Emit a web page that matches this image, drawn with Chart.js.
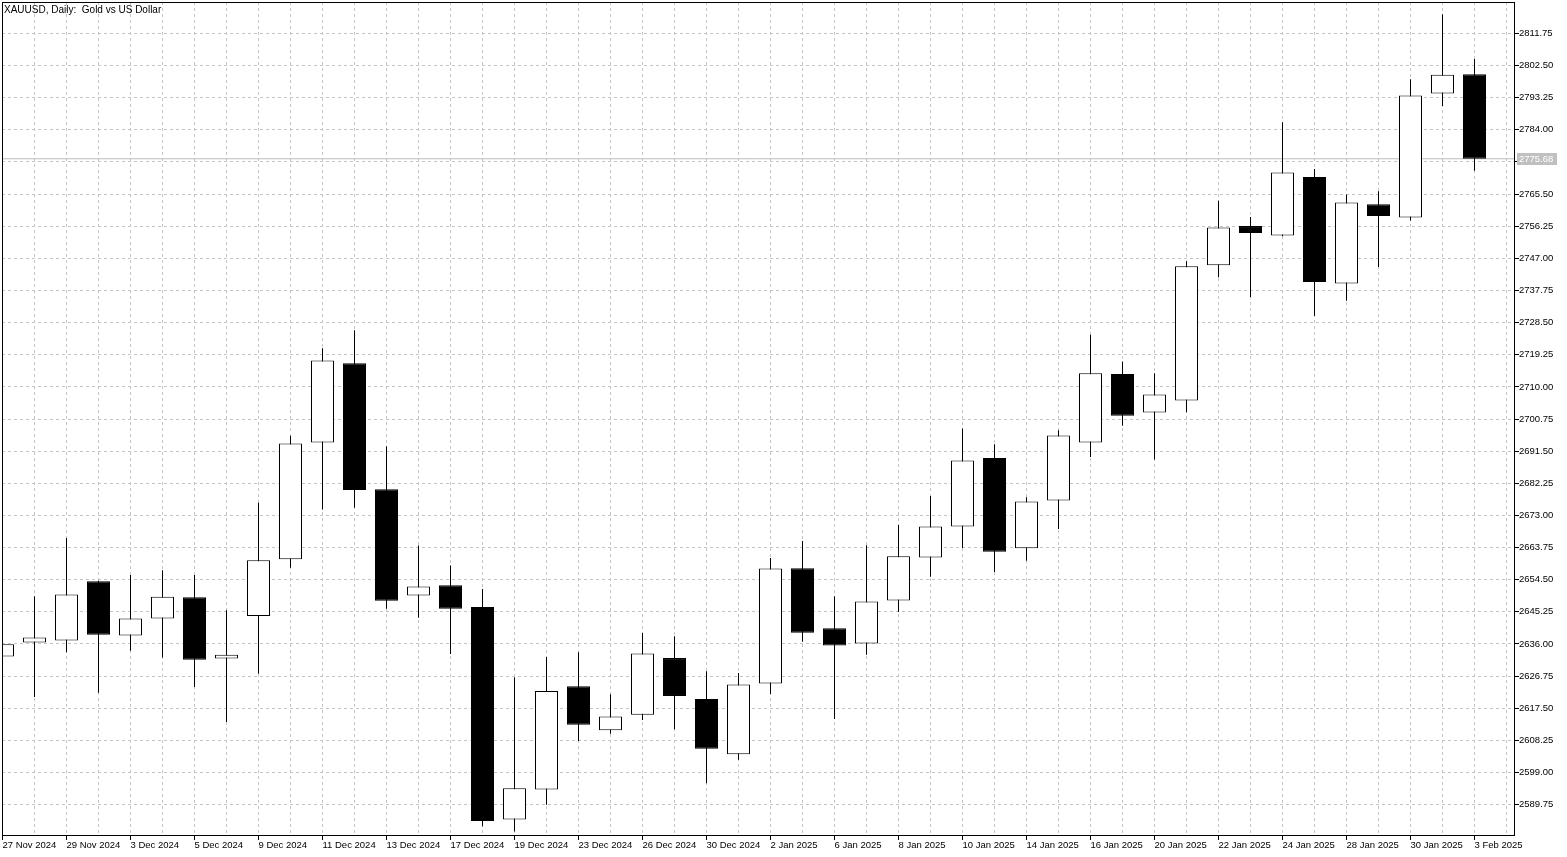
<!DOCTYPE html>
<html><head><meta charset="utf-8">
<script src="https://cdn.jsdelivr.net/npm/chart.js@4.4.1/dist/chart.umd.min.js"></script>
<style>html,body{margin:0;padding:0;background:#fff;overflow:hidden}canvas{display:block}</style>
</head><body><canvas id="c" width="1567" height="857"></canvas>
<script>
const titleText = 'XAUUSD, Daily:  Gold vs US Dollar';
const dates = ['27 Nov 2024','28 Nov 2024','29 Nov 2024','2 Dec 2024','3 Dec 2024','4 Dec 2024','5 Dec 2024','6 Dec 2024','9 Dec 2024','10 Dec 2024','11 Dec 2024','12 Dec 2024','13 Dec 2024','16 Dec 2024','17 Dec 2024','18 Dec 2024','19 Dec 2024','20 Dec 2024','23 Dec 2024','24 Dec 2024','26 Dec 2024','27 Dec 2024','30 Dec 2024','31 Dec 2024','2 Jan 2025','3 Jan 2025','6 Jan 2025','7 Jan 2025','8 Jan 2025','9 Jan 2025','10 Jan 2025','13 Jan 2025','14 Jan 2025','15 Jan 2025','16 Jan 2025','17 Jan 2025','20 Jan 2025','21 Jan 2025','22 Jan 2025','23 Jan 2025','24 Jan 2025','27 Jan 2025','28 Jan 2025','29 Jan 2025','30 Jan 2025','31 Jan 2025','3 Feb 2025'];
const opens  = [2632.4,2636.4,2637.0,2654.0,2638.4,2643.3,2649.4,2631.8,2644.0,2660.4,2694.0,2716.8,2680.5,2649.9,2652.9,2646.6,2585.4,2594.1,2623.8,2611.1,2615.6,2631.9,2620.1,2604.2,2624.6,2657.8,2640.5,2636.1,2648.5,2660.9,2669.8,2689.5,2663.5,2677.3,2694.0,2713.7,2702.6,2706.1,2745.0,2756.3,2753.6,2770.4,2739.8,2762.6,2758.8,2794.5,2800.0];
const highs  = [2636.5,2649.7,2666.5,2654.2,2655.8,2657.2,2655.8,2645.7,2676.6,2695.9,2721.1,2726.3,2692.9,2664.3,2658.6,2651.8,2626.4,2632.2,2633.6,2621.5,2639.1,2638.2,2628.1,2627.6,2660.7,2665.6,2649.7,2664.4,2670.2,2678.6,2698.0,2693.5,2678.2,2697.5,2725.0,2717.3,2713.9,2746.2,2763.6,2758.9,2786.2,2772.7,2765.4,2766.3,2798.6,2817.3,2804.4];
const lows   = [2631.8,2620.7,2633.6,2621.9,2634.0,2632.1,2623.6,2613.5,2627.4,2657.9,2674.7,2675.2,2646.1,2643.5,2633.1,2583.5,2582.0,2589.7,2608.0,2610.1,2614.1,2611.4,2595.9,2602.6,2621.6,2636.6,2614.4,2632.9,2645.2,2655.3,2663.6,2656.7,2659.9,2669.1,2689.8,2698.8,2689.1,2702.7,2741.6,2735.9,2753.4,2730.4,2734.8,2744.5,2757.8,2790.9,2772.2];
const closes = [2635.9,2637.8,2650.2,2638.6,2643.3,2649.6,2631.4,2632.9,2660.1,2693.7,2717.6,2680.3,2648.4,2652.5,2646.1,2585.0,2594.4,2622.4,2612.7,2615.1,2633.2,2621.0,2605.8,2624.3,2657.7,2639.2,2635.5,2648.2,2661.2,2669.8,2688.8,2662.5,2677.0,2696.0,2713.9,2701.7,2707.8,2744.7,2755.9,2754.3,2771.7,2740.2,2763.1,2759.2,2793.9,2799.9,2775.68];
const yTickValues = [2589.75,2599.00,2608.25,2617.50,2626.75,2636.00,2645.25,2654.50,2663.75,2673.00,2682.25,2691.50,2700.75,2710.00,2719.25,2728.50,2737.75,2747.00,2756.25,2765.50,2774.75,2784.00,2793.25,2802.50,2811.75];
const currentPrice = 2775.68;

const FAMILY = '"Liberation Sans", Arial, sans-serif';
Chart.defaults.font.family = FAMILY;
Chart.defaults.color = '#000';

const idx = dates.map((d, i) => i);
const bodyData = idx.map(i => ({x: i, y: [opens[i], closes[i]]}));
const wickData = idx.map(i => ({x: i, y: [lows[i], highs[i]]}));
const isUp = i => closes[i] >= opens[i];
const GRID = '#c4c4c4';

const overlay = {
  id: 'overlay',
  afterDraw(chart) {
    const {ctx, chartArea: a, scales: {y}} = chart;
    ctx.save();
    ctx.strokeStyle = '#000';
    ctx.lineWidth = 1;
    ctx.strokeRect(a.left + 0.5, a.top + 0.5, a.right - a.left - 1, a.bottom - a.top - 1);
    const py = Math.round(y.getPixelForValue(currentPrice));
    ctx.fillStyle = '#c0c0c0';
    ctx.fillRect(a.right + 2, py - 6, 40, 12);
    ctx.fillStyle = '#ffffff';
    ctx.font = '9.5px ' + FAMILY;
    ctx.textBaseline = 'middle';
    ctx.textAlign = 'left';
    ctx.fillText(currentPrice.toFixed(2), a.right + 4, py + 0.5);
    ctx.fillStyle = '#000';
    ctx.textBaseline = 'alphabetic';
    ctx.font = '10px ' + FAMILY;
    ctx.fillText(titleText, 4, 13);
    ctx.restore();
  }
};

new Chart(document.getElementById('c'), {
  type: 'bar',
  data: {
    datasets: [
      {
        type: 'line', label: 'price', order: 3, clip: 0,
        data: [{x: -1, y: currentPrice}, {x: dates.length + 1, y: currentPrice}],
        borderColor: '#bcbcbc', borderWidth: 1, pointRadius: 0, fill: false
      },
      {
        label: 'wick', order: 2, clip: 0, grouped: false,
        data: wickData, barThickness: 1, backgroundColor: '#000', borderWidth: 0, inflateAmount: 0
      },
      {
        label: 'body', order: 1, clip: 0, grouped: false,
        data: bodyData, barThickness: 23,
        backgroundColor: ctx => isUp(ctx.dataIndex) ? '#ffffff' : '#000000',
        borderColor: '#000', borderWidth: 1, borderSkipped: false, inflateAmount: 0
      }
    ]
  },
  options: {
    responsive: false, animation: false, devicePixelRatio: 1,
    layout: {padding: {left: 2, top: 2, right: 0, bottom: 0}},
    plugins: {legend: {display: false}, tooltip: {enabled: false}, title: {display: false}},
    events: [],
    scales: {
      x: {
        type: 'linear', offset: false,
        min: -1 / 64, max: -1 / 64 + 1513 / 32,
        afterBuildTicks: s => { s.ticks = idx.concat([dates.length]).map(v => ({value: v})); },
        ticks: {
          autoSkip: false, maxRotation: 0, minRotation: 0, align: 'start', padding: 0,
          color: '#000', font: {size: 9.5},
          callback: (v) => (v % 2 === 0 && dates[v]) ? dates[v] : ''
        },
        grid: {
          offset: false, color: GRID, lineWidth: 1, drawTicks: true, tickLength: 4,
          tickColor: ctx => (ctx.index % 2 === 0 && ctx.index < dates.length) ? '#000' : 'rgba(0,0,0,0)',
          tickBorderDash: []
        },
        border: {display: false, dash: [3, 3]},
        afterFit: s => { s.height = 21; s.paddingLeft = 0; s.paddingRight = 0; }
      },
      y: {
        type: 'linear', position: 'right', beginAtZero: false,
        min: 2580.68, max: 2820.82,
        afterBuildTicks: s => { s.ticks = yTickValues.map(v => ({value: v})); },
        ticks: {
          autoSkip: false, padding: 0, color: '#000', font: {size: 9.5}, crossAlign: 'near',
          callback: v => Number(v).toFixed(2)
        },
        grid: {color: GRID, lineWidth: 1, drawTicks: true, tickLength: 4, tickColor: '#000', tickBorderDash: []},
        border: {display: false, dash: [3, 3]},
        afterFit: s => { s.width = 52; s.paddingTop = 0; s.paddingBottom = 0; }
      }
    }
  },
  plugins: [overlay]
});
</script>
</body></html>
